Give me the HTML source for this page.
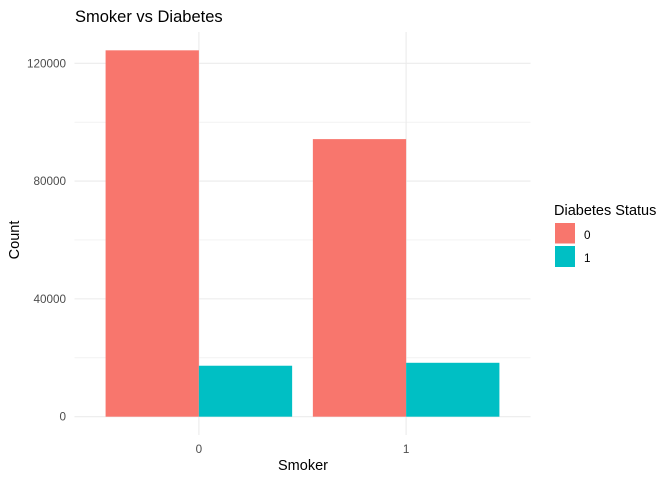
<!DOCTYPE html>
<html><head><meta charset="utf-8"><style>body{margin:0;background:#fff}svg{display:block;font-family:"Liberation Sans",Arial,sans-serif}</style></head>
<body>
<svg id="chart" width="672" height="480" viewBox="0 0 672 480" xmlns="http://www.w3.org/2000/svg">
<text x="75" y="22" font-size="16.5" fill="#000">Smoker vs Diabetes</text>
<g id="grid"></g><g id="bars"></g><g id="axes"></g>
<text x="303" y="470" font-size="14.5" text-anchor="middle" fill="#000">Smoker</text>
<text transform="translate(19,240) rotate(-90)" font-size="14.5" text-anchor="middle" fill="#000">Count</text>
<g>
<text x="554" y="215" font-size="14.5" fill="#000">Diabetes Status</text>
<rect x="555" y="223" width="20" height="20.5" fill="#F8766D"/>
<text x="584" y="239" font-size="11.7" fill="#000">0</text>
<rect x="555" y="246" width="20" height="21" fill="#00BFC4"/>
<text x="584" y="262" font-size="11.7" fill="#000">1</text>
</g>
</svg>
<script>
const categories = ["0", "1"];
const groups = ["0", "1"];
const seriesDiabetes0 = [124400, 94250];
const seriesDiabetes1 = [17300, 18300];
const yTicks = [0, 40000, 80000, 120000];
const yMinor = [20000, 60000, 100000];
const colors = ["#F8766D", "#00BFC4"];
const NS = "http://www.w3.org/2000/svg";
const L = 74.5, R = 530.5, T = 32, B = 435;
const yMin = -6220, yMax = 130620;
function y(v){return B - (v - yMin)/(yMax - yMin)*(B - T);}
const unit = (R - L)/(categories.length + 0.2);
function x(i){return L + unit*(0.6 + i);}
function mk(tag, attrs, parent){const e=document.createElementNS(NS,tag);for(const k in attrs)e.setAttribute(k,attrs[k]);parent.appendChild(e);return e;}
const grid=document.getElementById('grid'), bars=document.getElementById('bars'), axes=document.getElementById('axes');
yMinor.forEach(v=>{const l=mk('line',{x1:L,x2:R,y1:y(v),y2:y(v),stroke:'#ebebeb','stroke-width':0.6},grid);

});
yTicks.forEach(v=>{const l=mk('line',{x1:L,x2:R,y1:y(v),y2:y(v),stroke:'#ebebeb','stroke-width':1.1},grid);


const t=mk('text',{x:66,y:y(v)+4,'font-size':11.7,'text-anchor':'end',fill:'#4d4d4d'},axes);t.textContent=v;

});
categories.forEach((c,i)=>{const l=mk('line',{x1:x(i),x2:x(i),y1:T,y2:B,stroke:'#ebebeb','stroke-width':1.1},grid);


const t=mk('text',{x:x(i),y:453,'font-size':11.7,'text-anchor':'middle',fill:'#4d4d4d'},axes);t.textContent=c;


[seriesDiabetes0, seriesDiabetes1].forEach((s,g)=>{const w=unit*0.45;const bx=x(i)-w+g*w;
const r=mk('rect',{x:bx,y:y(s[i]),width:w,height:y(0)-y(s[i]),fill:colors[g]},bars);

});});
</script>
</body></html>
